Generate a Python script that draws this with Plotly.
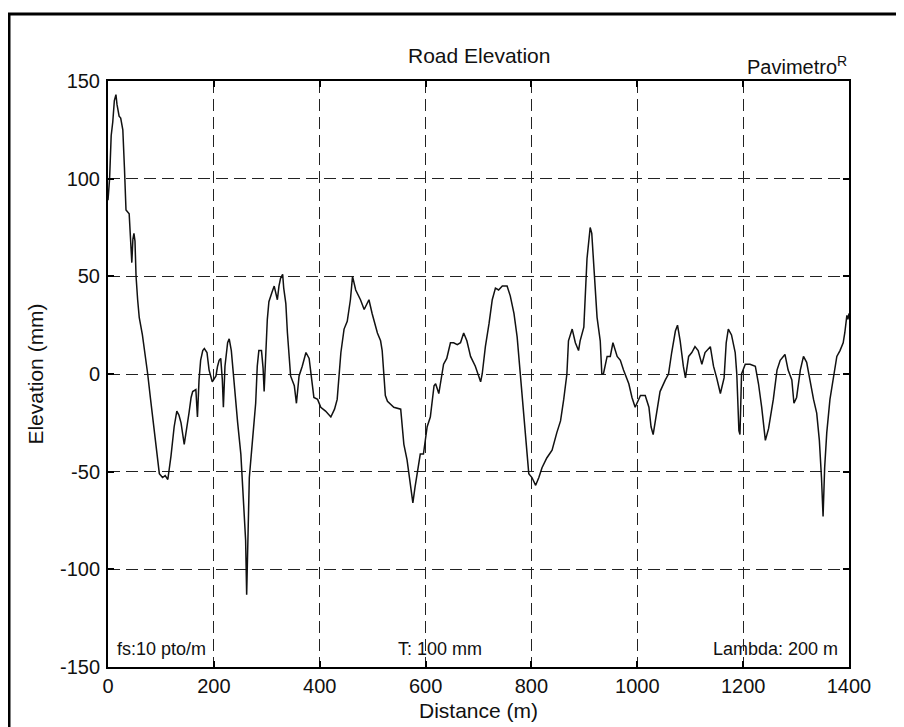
import plotly.graph_objects as go

# Traced road-elevation profile (distance in m, elevation in mm)
distance_m = [0, 3, 6, 9, 12, 15, 17, 21, 24, 28, 31, 34, 40, 42, 45, 47, 49, 51, 53, 56,
              59, 65, 72, 75, 80, 87, 92, 97, 103, 108, 113, 119, 125, 130, 134, 138, 144, 149, 153, 157,
              160, 166, 169, 172, 175, 179, 182, 187, 191, 197, 201, 204, 207, 210, 213, 216, 218, 221, 226, 229,
              233, 238, 242, 245, 251, 254, 258, 260, 262, 264, 267, 273, 279, 282, 285, 290, 293, 295, 298, 301,
              304, 307, 310, 314, 317, 320, 323, 326, 330, 332, 336, 339, 345, 352, 356, 361, 367, 374, 380, 383,
              389, 396, 402, 411, 421, 428, 433, 440, 446, 452, 458, 462, 468, 477, 484, 493, 499, 509, 515, 518,
              521, 524, 528, 540, 553, 559, 565, 572, 576, 580, 587, 590, 596, 603, 609, 616, 619, 625, 631, 634,
              640, 647, 653, 660, 666, 672, 678, 685, 694, 700, 704, 707, 713, 720, 726, 732, 738, 745, 754, 760,
              767, 773, 779, 786, 791, 795, 801, 808, 814, 820, 829, 839, 848, 855, 861, 867, 870, 877, 883, 889,
              892, 899, 905, 911, 914, 918, 924, 930, 933, 936, 943, 949, 954, 962, 968, 974, 984, 990, 996, 1006,
              1015, 1022, 1026, 1030, 1037, 1043, 1053, 1059, 1065, 1072, 1076, 1081, 1087, 1091, 1097, 1103, 1109, 1115, 1122, 1128,
              1138, 1144, 1150, 1157, 1164, 1168, 1172, 1178, 1185, 1188, 1192, 1194, 1197, 1204, 1213, 1223, 1229, 1235, 1242, 1248,
              1257, 1264, 1270, 1279, 1285, 1292, 1296, 1301, 1308, 1314, 1320, 1326, 1333, 1339, 1344, 1348, 1351, 1354, 1358, 1364,
              1370, 1377, 1383, 1389, 1392, 1396, 1398, 1400]
elevation_mm = [89, 100, 122, 129, 140, 143, 138, 132, 131, 125, 106, 84, 82, 70, 57, 69, 72, 68, 50, 38,
                29, 20, 7, 0, -12, -27, -40, -51, -53, -52, -54, -42, -27, -19, -21, -25, -36, -28, -20, -12,
                -9, -8, -22, -3, 7, 12, 13, 11, 2, -4, -2, -1, 4, 7, 8, -3, -17, 4, 16, 18,
                12, -5, -18, -25, -41, -55, -72, -85, -113, -81, -53, -34, -15, 4, 12, 12, 3, -9, 14, 28,
                37, 40, 42, 45, 41, 38, 45, 49, 51, 44, 36, 21, -1, -6, -15, -1, 4, 11, 8, 2,
                -12, -13, -17, -19, -22, -18, -13, 11, 23, 27, 38, 50, 43, 38, 33, 38, 31, 21, 17, 12,
                -2, -11, -14, -17, -18, -36, -44, -58, -66, -58, -46, -41, -41, -27, -22, -6, -5, -10, 0, 5,
                8, 16, 16, 15, 16, 21, 17, 9, 4, -1, -4, 0, 14, 26, 38, 44, 43, 45, 45, 40,
                31, 19, -1, -20, -41, -51, -53, -57, -53, -48, -43, -39, -30, -24, -13, 0, 17, 23, 16, 12,
                17, 24, 59, 75, 72, 55, 29, 17, 0, 0, 9, 9, 16, 9, 7, 2, -5, -12, -17, -11,
                -11, -17, -27, -31, -18, -9, -3, 0, 11, 22, 25, 17, 4, -2, 9, 11, 14, 12, 5, 11,
                14, 4, -2, -10, -2, 16, 23, 20, 11, 0, -29, -31, 0, 5, 5, 4, -5, -17, -34, -28,
                -13, 2, 7, 10, 2, -3, -15, -12, 2, 9, 6, -3, -13, -20, -34, -53, -73, -48, -30, -13,
                -3, 9, 12, 16, 21, 30, 28, 31]

x_ticks = [0, 200, 400, 600, 800, 1000, 1200, 1400]
y_ticks = [-150, -100, -50, 0, 50, 100, 150]

fig = go.Figure()
fig.add_trace(go.Scatter(x=distance_m, y=elevation_mm, mode="lines",
                         line=dict(color="#111111", width=1.5), showlegend=False))

axis_common = dict(showline=True, linecolor="black", linewidth=2, mirror="ticks",
                   ticks="inside", ticklen=6, tickwidth=1.5, tickcolor="black",
                   showgrid=True, gridcolor="#222222", gridwidth=1.3, griddash="12px,6px",
                   zeroline=False, tickfont=dict(size=20, color="#111111"))

fig.update_xaxes(range=[0, 1400], tickvals=x_ticks, ticktext=[str(v) for v in x_ticks],
                 title=dict(text="Distance (m)", font=dict(size=21, color="#111111"), standoff=7),
                 ticklabelstandoff=0, **axis_common)
fig.update_yaxes(range=[-150, 150], tickvals=y_ticks, ticktext=[str(v) for v in y_ticks],
                 title=dict(text="Elevation (mm)", font=dict(size=21, color="#111111"), standoff=11),
                 ticklabelstandoff=2, **axis_common)

# the page body has an 8px margin, so the figure is offset by (8, 8)
fig.update_layout(
    width=896, height=719,
    margin=dict(l=100, r=55, t=73, b=60, autoexpand=False),
    paper_bgcolor="white", plot_bgcolor="white",
    font=dict(family="Liberation Sans, Arial, sans-serif", color="#111111"),
    annotations=[
        dict(text="Road Elevation", xref="paper", yref="paper", x=0.5, y=1.043,
             xanchor="center", yanchor="middle", showarrow=False, font=dict(size=21)),
        dict(text="Pavimetro<sup>R</sup>", xref="paper", yref="paper", x=1.0, y=1.026,
             xanchor="right", yanchor="middle", showarrow=False, font=dict(size=20)),
        dict(text="fs:10 pto/m", x=13, y=-141, xref="x", yref="y", xanchor="left",
             yanchor="middle", showarrow=False, font=dict(size=18)),
        dict(text="T: 100 mm", x=545, y=-141, xref="x", yref="y", xanchor="left",
             yanchor="middle", showarrow=False, font=dict(size=18)),
        dict(text="Lambda: 200 m", x=1383, y=-141, xref="x", yref="y", xanchor="right",
             yanchor="middle", showarrow=False, font=dict(size=18)),
    ],
    shapes=[dict(type="rect", xref="paper", yref="paper",
                 x0=-0.1336, x1=1.09, y0=-0.13, y1=1.1143,
                 line=dict(color="black", width=3), fillcolor="rgba(0,0,0,0)")],
)

fig.write_html("out.html")
